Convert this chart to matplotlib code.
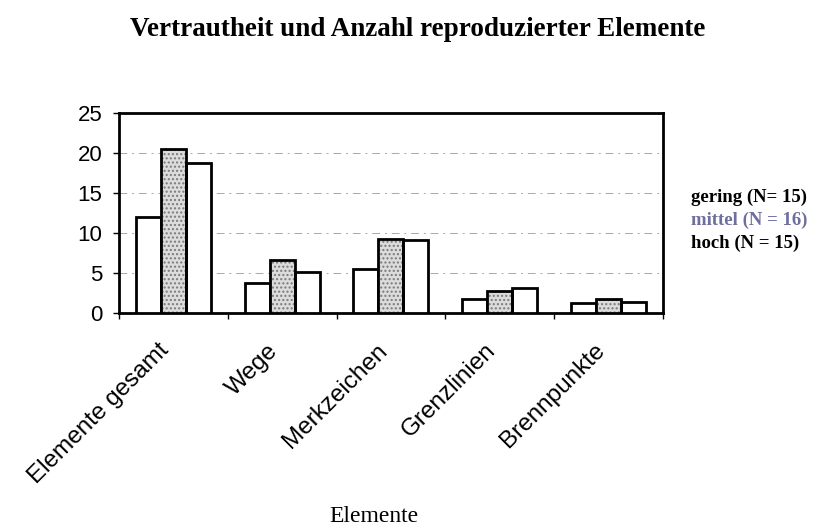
import matplotlib.pyplot as plt
import numpy as np

categories = ["Elemente gesamt", "Wege", "Merkzeichen", "Grenzlinien", "Brennpunkte"]
gering = [12.0, 3.7, 5.5, 1.7, 1.2]
mittel = [20.5, 6.6, 9.3, 2.8, 1.8]
hoch = [18.7, 5.1, 9.1, 3.1, 1.4]
legend_labels = ["gering (N= 15)", "mittel (N = 16)", "hoch (N = 15)"]
legend_colors = ["black", "#6f6f9f", "black"]

fig = plt.figure(figsize=(8.36, 5.28), dpi=100)
ax = fig.add_axes([0.1423, 0.407, 0.6507, 0.379])

x = np.arange(len(categories))
w = 0.23
ax.bar(x - w, gering, width=w, facecolor="white", edgecolor="black", linewidth=2, zorder=3)
# stippled middle bar: hatch layer first, then outline
ax.bar(x, mittel, width=w, facecolor="#dcdcdc", edgecolor="#7a7a7a", hatch="....",
       linewidth=0, zorder=3)
ax.bar(x, mittel, width=w, fill=False, edgecolor="black", linewidth=2, zorder=4)
ax.bar(x + w, hoch, width=w, facecolor="white", edgecolor="black", linewidth=2, zorder=3)

ax.set_xlim(-0.5, len(categories) - 0.5)
ax.set_ylim(0, 25)
ax.set_yticks([0, 5, 10, 15, 20, 25])
for yv in [5, 10, 15, 20]:
    ax.axhline(yv, color="#a8a8a8", lw=0.7, ls=(0, (8, 5, 2, 5)), zorder=1)

for s in ax.spines.values():
    s.set_linewidth(2)

# labels sit slightly left of the group centre, like the original
ax.set_xticks(x - 0.14)
ax.set_xticklabels(categories, rotation=45, ha="right", rotation_mode="anchor",
                   fontsize=17.5, family="Liberation Sans")
ax.set_xticks(np.arange(len(categories) + 1) - 0.5, minor=True)
ax.tick_params(axis="x", which="major", length=0, pad=19)
ax.tick_params(axis="x", which="minor", length=4, width=1)
ax.tick_params(axis="y", length=4, width=1, labelsize=16, pad=8)
for lab in ax.get_yticklabels():
    lab.set_family("Liberation Sans")

fig.text(0.5, 0.945, "Vertrautheit und Anzahl reproduzierter Elemente",
         ha="center", va="center", fontsize=19.5, fontweight="bold", family="Liberation Serif")
fig.text(0.447, 0.022, "Elemente", ha="center", va="center",
         fontsize=17, family="Liberation Serif")

for i, (lab, col) in enumerate(zip(legend_labels, legend_colors)):
    fig.text(0.826, 0.627 - i * 0.044, lab, ha="left", va="center", color=col,
             fontsize=13.5, fontweight="bold", family="Liberation Serif")

fig.savefig("out.png", dpi=100)
